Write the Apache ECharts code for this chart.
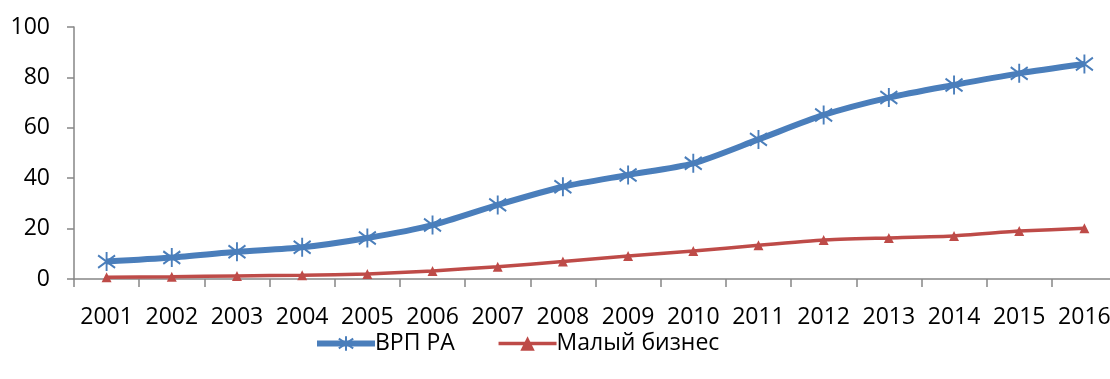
<!DOCTYPE html>
<html>
<head>
<meta charset="utf-8">
<style>
  html, body { margin: 0; padding: 0; background: #ffffff; }
  #chart { width: 1110px; height: 379px; }
</style>
<script src="https://cdn.jsdelivr.net/npm/echarts@6/dist/echarts.min.js"></script>
</head>
<body>
<div id="chart"></div>
<script>
// Years on the horizontal axis
const years = ['2001', '2002', '2003', '2004', '2005', '2006', '2007', '2008',
               '2009', '2010', '2011', '2012', '2013', '2014', '2015', '2016'];

// Gross regional product
const grpValues = [6.9, 8.5, 10.8, 12.6, 16.3, 21.4, 29.4, 36.6,
                   41.3, 45.9, 55.4, 65.1, 72.0, 77.0, 81.6, 85.3];

// Small business
const smallBizValues = [0.7, 0.9, 1.2, 1.5, 2.0, 3.2, 4.9, 6.9,
                        9.1, 11.1, 13.4, 15.5, 16.3, 17.1, 19.0, 20.1];

// Value axis range
const yMin = 0;
const yMax = 100;
const yStep = 20;

const seriesNames = ['ВРП РА', 'Малый бизнес'];

const FONT = '"Open Sans", "Noto Sans", sans-serif';
const AXIS_GREY = '#868686';
const BLUE = '#4A7EBB';
const RED = '#BE4B48';

// Asterisk marker: two diagonals and a vertical stroke
const asterisk = 'path://M1,3L15,15M15,3L1,15M8,0L8,18';

const chart = echarts.init(document.getElementById('chart'), null, { renderer: 'canvas' });

chart.setOption({
  animation: false,
  backgroundColor: '#ffffff',
  textStyle: { fontFamily: FONT },
  // plot area runs past the right edge of the canvas
  grid: { left: 74, top: 27, bottom: 100, width: 1043, containLabel: false, outerBoundsMode: 'none' },
  legend: {
    bottom: 19,
    left: 309,
    itemWidth: 58,
    itemHeight: 18,
    itemGap: 42,
    textStyle: { fontFamily: FONT, fontSize: 23, color: '#000000', padding: [0, 0, 0, -5] },
    data: [
      { name: seriesNames[0], lineStyle: { width: 6, color: BLUE } },
      { name: seriesNames[1], lineStyle: { width: 3.5, color: RED } }
    ]
  },
  xAxis: {
    type: 'category',
    data: years,
    boundaryGap: true,
    axisLine: { lineStyle: { color: AXIS_GREY, width: 1.5 } },
    axisTick: { show: true, length: 8, interval: 0, lineStyle: { color: AXIS_GREY, width: 1.5 } },
    axisLabel: { interval: 0, margin: 27, fontFamily: FONT, fontSize: 23, color: '#000000', hideOverlap: false },
    splitLine: { show: false }
  },
  yAxis: {
    type: 'value',
    min: yMin,
    max: yMax,
    interval: yStep,
    axisLine: { show: true, lineStyle: { color: AXIS_GREY, width: 1.5 } },
    axisTick: { show: true, length: 7, lineStyle: { color: AXIS_GREY, width: 1.5 } },
    axisLabel: { margin: 24, fontFamily: FONT, fontSize: 23, color: '#000000' },
    splitLine: { show: false }
  },
  series: [
    {
      name: seriesNames[0],
      type: 'line',
      data: grpValues,
      smooth: 0.25,
      symbol: asterisk,
      symbolSize: [17, 19],
      showAllSymbol: true,
      lineStyle: { color: BLUE, width: 6 },
      itemStyle: { color: BLUE, borderColor: BLUE, borderWidth: 2 },
      z: 3
    },
    {
      name: seriesNames[1],
      type: 'line',
      data: smallBizValues,
      smooth: 0.15,
      symbol: 'triangle',
      symbolSize: 10,
      showAllSymbol: true,
      lineStyle: { color: RED, width: 3.5 },
      itemStyle: { color: RED },
      z: 2
    }
  ]
});
</script>
</body>
</html>
